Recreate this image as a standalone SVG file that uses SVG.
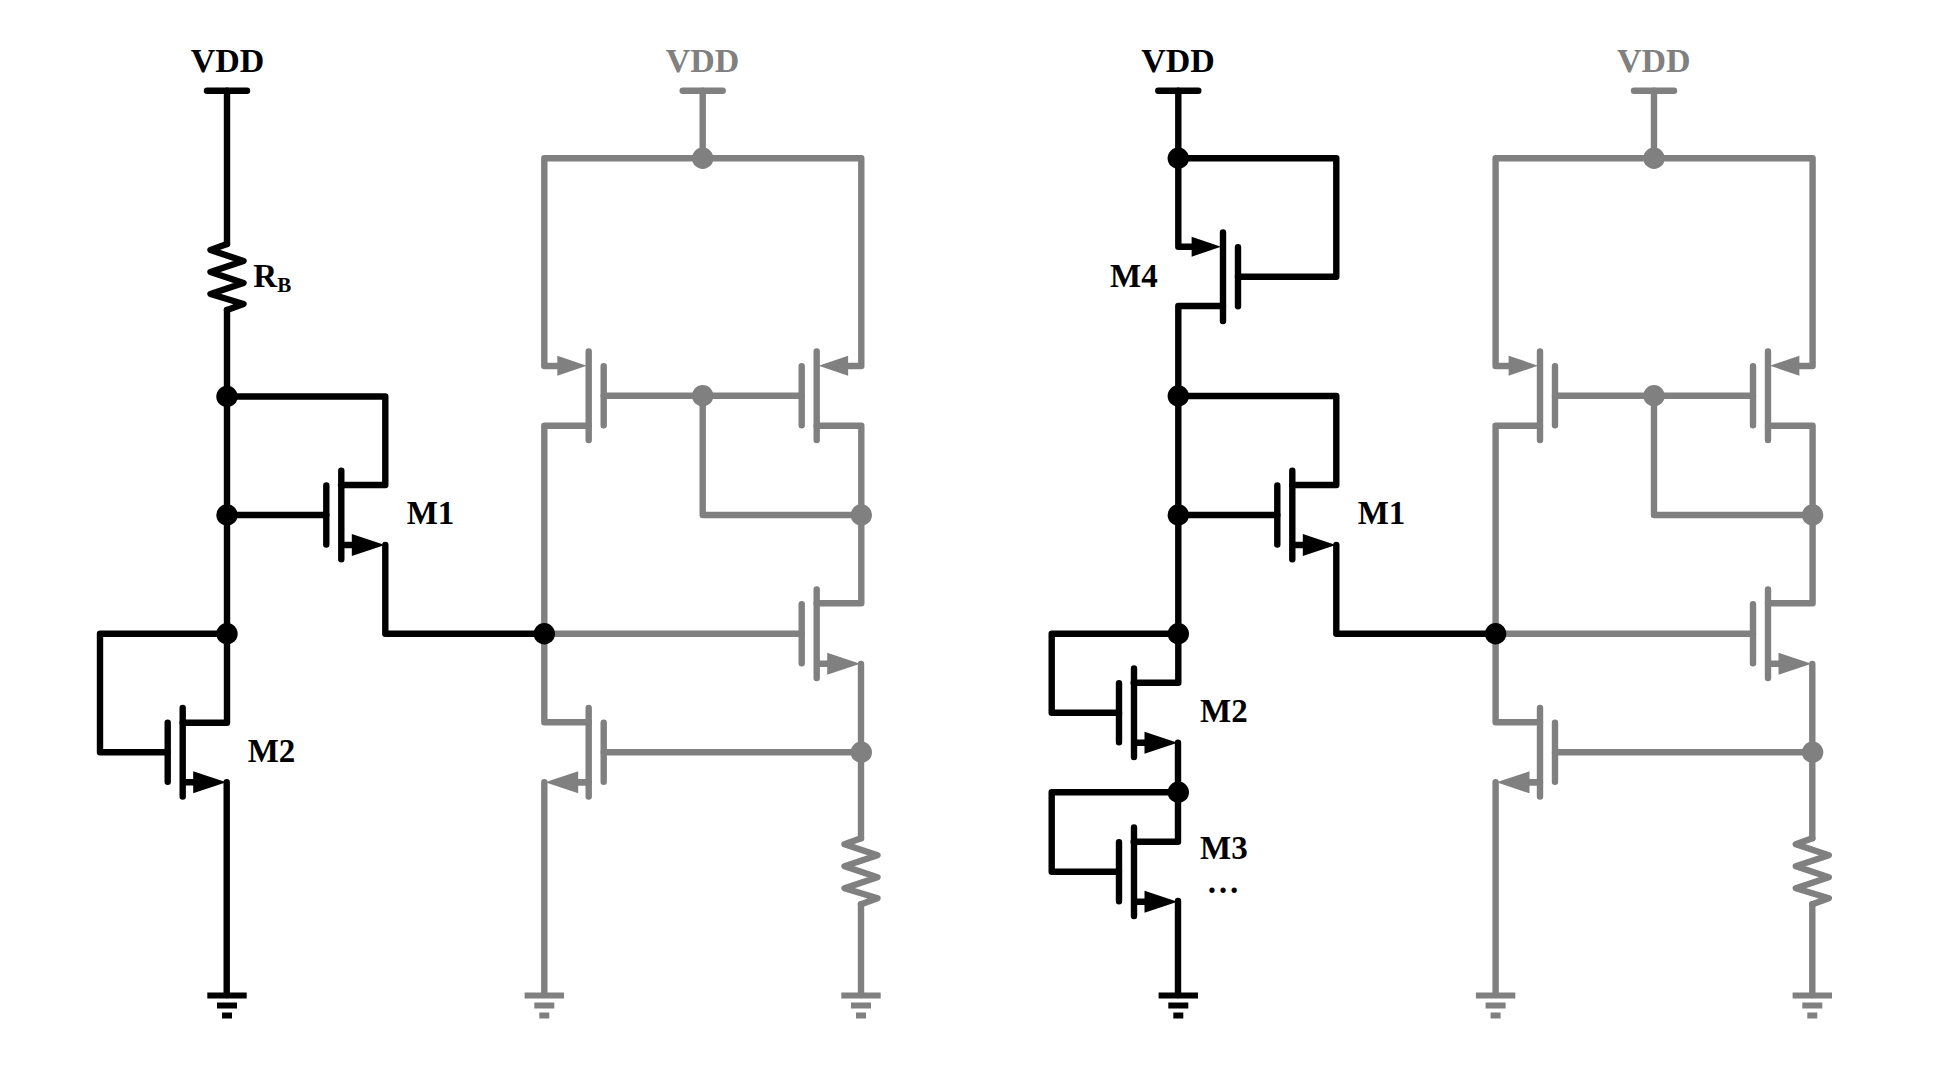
<svg xmlns="http://www.w3.org/2000/svg" xmlns:xlink="http://www.w3.org/1999/xlink" width="1941" height="1084" viewBox="0 0 1941 1084">
<style>
.k{color:#000}
.g{color:#808080}
.w{fill:none;stroke:currentColor;stroke-width:6.4;stroke-linejoin:round;stroke-linecap:round}
.f{fill:currentColor;stroke:none}
text{font-family:"Liberation Serif","Times New Roman",serif;font-weight:bold;fill:currentColor}
.vdd{font-size:34px;text-anchor:middle}
.lab{font-size:33px}
.sub{font-size:21px}
</style>
<defs>
<g id="n"><path class="w" d="M0-29.5V29.5M15-44.3V44.3M15 30H27"/><polygon class="f" points="58.5,30 25.5,19 25.5,41"/></g>
<g id="p"><path class="w" d="M0-29.5V29.5M-15-44.3V44.3"/><polygon class="f" points="-17,-30 -46.4,-40 -46.4,-20"/></g>
<path id="res" class="w" d="M0 0L-16.5 6L16.5 17L-16.5 28L16.5 39L-16.5 50L16.5 60L0 66"/>
<path id="bar" class="w" d="M-20 0H20"/>
<g id="gnd"><rect class="f" x="-19.7" y="-3" width="39.4" height="6"/><rect class="f" x="-10" y="7" width="20" height="6"/><rect class="f" x="-5" y="17" width="10" height="6"/></g>
<circle id="dot" class="f" r="10.7"/>
</defs>
<rect width="1941" height="1084" fill="#fff"/>

<g id="connectors">
<g id="wires-gray-1" class="g">
<path class="w" d="M702.7 90.7V158.3M557.3 366H544.3V158.3H861.3V366H848M588.7 425.7H544.3V722.3H588.7M603.7 395.7H801.7M702.7 395.7V515H861.3M816.7 425.7H861.3V603.3H816.7M544.3 633.7H801.7M861 664V838.3M603.7 752.3H861M861 904.3V995M544.3 782.3V995"/>
<path class="w" d="M560 782.3H588.7"/>
</g>
<g id="wires-gray-2" class="g" transform="translate(951.3 0)">
<path class="w" d="M702.7 90.7V158.3M557.3 366H544.3V158.3H861.3V366H848M588.7 425.7H544.3V722.3H588.7M603.7 395.7H801.7M702.7 395.7V515H861.3M816.7 425.7H861.3V603.3H816.7M544.3 633.7H801.7M861 664V838.3M603.7 752.3H861M861 904.3V995M544.3 782.3V995"/>
<path class="w" d="M560 782.3H588.7"/>
</g>
<g id="wires-black-1" class="k">
<path class="w" d="M227 90.7V244M227 310V722.7H182.7M227 396.5H385.3V485H341M227 515H326.3M385.3 545V633.7H544.3M227 633.7H100V752.3H167.7M226.7 782.3V995"/>
</g>
<g id="wires-black-2" class="k">
<path class="w" d="M1178.3 90.7V246.7H1191.7M1178.3 158.3H1336.3V276.7H1238M1223 306H1178.3V682.7H1133.7M1178.3 396H1336.3V485H1292.3M1178.3 515H1277.3M1336.3 545V633.7H1495.6M1178.3 633.7H1051.7V712.7H1119M1178 742.7V841.7H1133.7M1178.3 792.3H1051.7V871.7H1119M1178 901V995"/>
</g>
</g>

<g id="circuit-gray-1" class="g">
<g id="g1-vdd"><text class="vdd" x="702.5" y="72">VDD</text><use href="#bar" x="702.7" y="90.7"/></g>
<use id="g1-dot-top" href="#dot" x="702.7" y="158.3"/>
<use id="g1-pmos-left" href="#p" transform="translate(603.7 395.7)"/>
<use id="g1-pmos-right" href="#p" transform="translate(801.7 395.7) scale(-1 1)"/>
<use id="g1-dot-gate" href="#dot" x="702.7" y="395.7"/>
<use id="g1-dot-diode" href="#dot" x="861.3" y="515"/>
<use id="g1-nmos-upper" href="#n" transform="translate(801.7 633.7)"/>
<use id="g1-nmos-lower" href="#n" transform="translate(603.7 752.3) scale(-1 1)"/>
<use id="g1-dot-out" href="#dot" x="861.3" y="752.3"/>
<use id="g1-res" href="#res" x="861" y="838.3"/>
<use id="g1-gnd-left" href="#gnd" x="544.3" y="995.5"/>
<use id="g1-gnd-right" href="#gnd" x="861" y="995.5"/>
</g>

<g id="circuit-gray-2" class="g" transform="translate(951.3 0)">
<g id="g2-vdd"><text class="vdd" x="702.5" y="72">VDD</text><use href="#bar" x="702.7" y="90.7"/></g>
<use id="g2-dot-top" href="#dot" x="702.7" y="158.3"/>
<use id="g2-pmos-left" href="#p" transform="translate(603.7 395.7)"/>
<use id="g2-pmos-right" href="#p" transform="translate(801.7 395.7) scale(-1 1)"/>
<use id="g2-dot-gate" href="#dot" x="702.7" y="395.7"/>
<use id="g2-dot-diode" href="#dot" x="861.3" y="515"/>
<use id="g2-nmos-upper" href="#n" transform="translate(801.7 633.7)"/>
<use id="g2-nmos-lower" href="#n" transform="translate(603.7 752.3) scale(-1 1)"/>
<use id="g2-dot-out" href="#dot" x="861.3" y="752.3"/>
<use id="g2-res" href="#res" x="861" y="838.3"/>
<use id="g2-gnd-left" href="#gnd" x="544.3" y="995.5"/>
<use id="g2-gnd-right" href="#gnd" x="861" y="995.5"/>
</g>

<g id="circuit-black-1" class="k">
<g id="b1-vdd"><text class="vdd" x="227.5" y="72">VDD</text><use href="#bar" x="227" y="90.7"/></g>
<g id="b1-rb"><use href="#res" x="227" y="244"/><text class="lab" x="253.3" y="286.5">R<tspan class="sub" dy="5">B</tspan></text></g>
<use id="b1-dot-a" href="#dot" x="227" y="396.5"/>
<use id="b1-dot-b" href="#dot" x="227" y="515"/>
<use id="b1-dot-c" href="#dot" x="227" y="633.7"/>
<use id="b1-dot-out" href="#dot" x="544.3" y="633.7"/>
<g id="b1-m1"><use href="#n" transform="translate(326.3 515)"/><text class="lab" x="406.7" y="524.3">M1</text></g>
<g id="b1-m2"><use href="#n" transform="translate(167.7 752.3)"/><text class="lab" x="247.7" y="762">M2</text></g>
<use id="b1-gnd" href="#gnd" x="227" y="995.5"/>
</g>

<g id="circuit-black-2" class="k">
<g id="b2-vdd"><text class="vdd" x="1178" y="72">VDD</text><use href="#bar" x="1178.3" y="90.7"/></g>
<use id="b2-dot-top" href="#dot" x="1178.3" y="158.3"/>
<g id="b2-m4"><use href="#p" transform="translate(1238 276.7)"/><text class="lab" x="1110" y="286.5">M4</text></g>
<use id="b2-dot-a" href="#dot" x="1178.3" y="396"/>
<use id="b2-dot-b" href="#dot" x="1178.3" y="515"/>
<use id="b2-dot-c" href="#dot" x="1178.3" y="633.7"/>
<use id="b2-dot-d" href="#dot" x="1178.3" y="792.3"/>
<use id="b2-dot-out" href="#dot" x="1495.6" y="633.7"/>
<g id="b2-m1"><use href="#n" transform="translate(1277.3 515)"/><text class="lab" x="1357.7" y="524.3">M1</text></g>
<g id="b2-m2"><use href="#n" transform="translate(1119 712.7)"/><text class="lab" x="1200" y="722">M2</text></g>
<g id="b2-m3"><use href="#n" transform="translate(1119 871.7)"/><text class="lab" x="1200" y="859.3">M3</text><text class="lab" x="1206.5" y="893">…</text></g>
<use id="b2-gnd" href="#gnd" x="1178.3" y="995.5"/>
</g>
</svg>
